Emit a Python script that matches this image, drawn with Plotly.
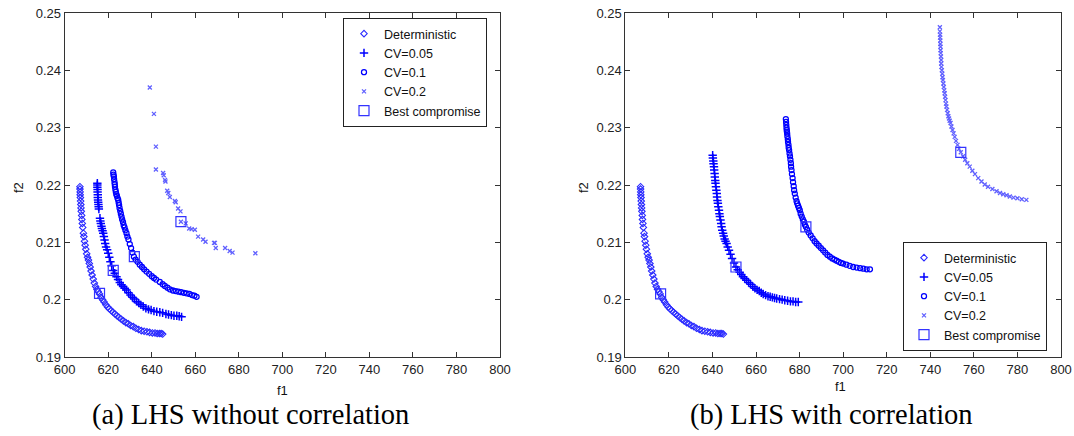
import plotly.graph_objects as go

# ---------------- data, (f1, f2) pairs ----------------
det_pts = [(607.0, .2197), (607.0, .2193), (607.1, .2188), (607.1, .2183), (607.2, .2178), (607.3, .2172),
           (607.4, .2166), (607.5, .2160), (607.6, .2154), (607.8, .2147), (607.9, .2140), (608.1, .2133),
           (608.3, .2126), (608.6, .2116), (608.8, .2110), (609.1, .2102), (609.4, .2095), (609.7, .2088),
           (610.1, .2080), (610.5, .2074), (610.9, .2069), (611.3, .2063), (611.7, .2057), (612.1, .2050),
           (612.6, .2043), (613.1, .2036), (613.6, .2029), (614.2, .2023), (614.8, .2018), (615.4, .2014),
           (616.0, .2010), (616.7, .2004), (617.4, .2000), (618.1, .1996), (618.9, .1991), (619.7, .1987),
           (620.5, .1984), (621.3, .1981), (622.2, .1978), (623.1, .1975), (624.0, .1972), (625.0, .1969),
           (626.0, .1966), (627.0, .1963), (628.1, .1960), (629.2, .1958), (630.3, .1955), (631.5, .1953),
           (632.7, .1950), (634.0, .1948), (635.2, .1946), (636.5, .1945), (637.8, .1944), (639.0, .1943),
           (640.3, .1942), (641.5, .1942), (642.5, .1941), (643.5, .1941), (644.3, .1941), (645.0, .1940)]

# (a) LHS without correlation
a_cv05_pts = [(615.0, .2203), (615.0, .2200), (615.0, .2196), (615.1, .2192), (615.1, .2188), (615.2, .2183),
              (615.2, .2178), (615.3, .2174), (615.4, .2170), (615.5, .2166), (615.6, .2162), (615.7, .2158),
              (616.2, .2142), (616.4, .2137), (616.6, .2133), (616.9, .2128), (617.1, .2124), (617.4, .2120),
              (617.7, .2116), (618.0, .2110), (618.3, .2104), (618.6, .2098), (619.0, .2092), (619.5, .2087),
              (620.0, .2081), (620.5, .2074), (621.0, .2066), (621.6, .2059), (622.3, .2051), (623.0, .2046),
              (623.8, .2040), (624.5, .2035), (625.3, .2030), (626.0, .2026), (626.8, .2023), (627.6, .2020),
              (628.4, .2017), (629.3, .2012), (630.2, .2008), (631.1, .2004), (632.0, .2001), (633.0, .1997),
              (634.0, .1994), (635.0, .1991), (636.1, .1988), (637.3, .1985), (638.5, .1983), (639.7, .1982),
              (641.0, .1980), (642.3, .1979), (643.7, .1978), (645.0, .1977), (646.5, .1975), (647.7, .1974),
              (649.0, .1973), (650.2, .1972), (651.5, .1972), (652.6, .1971), (653.7, .1970)]
a_cv1_pts = [(622.3, .2222), (622.4, .2218), (622.6, .2215), (622.7, .2210), (622.9, .2205), (623.0, .2201),
             (623.1, .2197), (623.3, .2192), (623.5, .2188), (623.7, .2184), (624.0, .2181), (624.3, .2177),
             (624.6, .2174), (624.8, .2169), (625.0, .2165), (625.2, .2160), (625.5, .2155), (625.8, .2150),
             (626.1, .2145), (626.4, .2140), (626.8, .2135), (627.1, .2130), (627.5, .2126), (627.9, .2121),
             (628.4, .2116), (628.8, .2110), (629.3, .2105), (629.9, .2097), (630.5, .2090), (631.1, .2082),
             (631.8, .2075), (632.6, .2070), (633.5, .2066), (634.5, .2061), (635.5, .2057), (636.5, .2053),
             (637.6, .2049), (638.8, .2045), (640.0, .2041), (641.0, .2038), (642.0, .2035), (643.7, .2031),
             (645.0, .2027), (646.0, .2024), (647.2, .2021), (648.3, .2018), (649.7, .2016), (651.0, .2015),
             (652.3, .2014), (653.5, .2013), (654.8, .2012), (656.0, .2011), (657.3, .2010), (658.5, .2008),
             (659.6, .2007), (660.6, .2005)]
a_cv2_pts = [(639.1, .2370), (641.0, .2324), (641.9, .2267), (641.9, .2227), (645.2, .2221), (645.5, .2217),
             (646.1, .2209), (646.3, .2206), (647.1, .2190), (647.6, .2186), (648.3, .2179), (650.6, .2172),
             (651.0, .2170), (652.1, .2159), (653.2, .2154), (653.4, .2136), (655.6, .2133), (657.2, .2124),
             (658.3, .2123), (659.8, .2122), (661.3, .2110), (663.6, .2105), (664.7, .2101), (668.6, .2099),
             (669.0, .2099), (669.4, .2090), (673.7, .2090), (675.8, .2085), (677.1, .2082), (687.6, .2081)]
a_best_pts = [(616.0, .2011), (622.3, .2051), (632.0, .2075), (653.4, .2136)]

# (b) LHS with correlation
b_cv05_pts = [(640.1, .2252), (640.2, .2247), (640.4, .2242), (640.5, .2237), (640.7, .2232), (640.8, .2226),
              (641.0, .2220), (641.1, .2214), (641.3, .2208), (641.4, .2203), (641.6, .2197), (641.8, .2191),
              (642.0, .2185), (642.1, .2179), (642.3, .2173), (642.5, .2168), (642.7, .2162), (643.0, .2156),
              (643.2, .2150), (643.4, .2145), (643.7, .2139), (644.0, .2133), (644.2, .2127), (644.5, .2121),
              (644.9, .2116), (645.2, .2111), (645.6, .2106), (646.0, .2102), (646.5, .2098), (647.0, .2092),
              (647.6, .2086), (648.3, .2079), (649.0, .2072), (649.9, .2064), (650.8, .2057), (651.6, .2052),
              (652.5, .2048), (653.2, .2044), (654.0, .2040), (654.8, .2037), (655.7, .2034), (656.6, .2030),
              (657.5, .2027), (658.5, .2023), (659.5, .2020), (660.5, .2017), (661.5, .2015), (662.4, .2012),
              (663.3, .2010), (664.4, .2008), (665.5, .2006), (666.5, .2005), (667.5, .2004), (668.5, .2003),
              (669.5, .2002), (670.8, .2001), (672.0, .2000), (673.2, .1999), (674.5, .1998), (675.8, .1997),
              (677.0, .1997), (678.2, .1996), (679.4, .1996)]
b_cv1_pts = [(673.7, .2315), (673.8, .2310), (673.9, .2305), (674.0, .2300), (674.1, .2296), (674.2, .2293),
             (674.3, .2290), (674.4, .2285), (674.6, .2280), (674.7, .2275), (674.9, .2270), (675.0, .2265),
             (675.2, .2261), (675.4, .2255), (675.6, .2250), (675.8, .2244), (676.0, .2238), (676.1, .2232),
             (676.3, .2226), (676.5, .2219), (676.8, .2212), (677.0, .2205), (677.3, .2198), (677.5, .2191),
             (677.8, .2185), (678.2, .2178), (678.6, .2172), (678.9, .2168), (679.3, .2164), (679.7, .2160),
             (680.1, .2156), (680.5, .2150), (681.0, .2145), (681.5, .2140), (682.0, .2136), (682.4, .2131),
             (682.9, .2127), (683.5, .2122), (684.2, .2117), (685.1, .2112), (686.0, .2107), (686.9, .2102),
             (687.8, .2098), (688.8, .2094), (689.8, .2090), (690.8, .2086), (691.8, .2082), (692.8, .2078),
             (693.9, .2075), (695.0, .2072), (696.0, .2070), (697.0, .2068), (698.0, .2066), (699.0, .2064),
             (700.0, .2063), (701.5, .2061), (703.0, .2059), (704.6, .2057), (706.2, .2056), (707.8, .2055),
             (709.3, .2054), (710.8, .2053), (712.3, .2053)]
b_cv2_pts = [(744.4, .2475), (744.4, .2468), (744.5, .2462), (744.5, .2457), (744.6, .2452), (744.6, .2446),
             (744.7, .2441), (744.7, .2435), (744.8, .2430), (744.9, .2424), (745.0, .2418), (745.0, .2412),
             (745.1, .2406), (745.3, .2400), (745.5, .2394), (745.6, .2388), (745.8, .2383), (746.0, .2377),
             (746.2, .2371), (746.4, .2365), (746.6, .2360), (746.8, .2354), (747.0, .2348), (747.2, .2342),
             (747.4, .2337), (747.7, .2331), (748.0, .2325), (748.3, .2320), (748.6, .2316), (748.9, .2312),
             (749.3, .2308), (749.7, .2302), (750.2, .2296), (750.7, .2290), (751.2, .2284), (751.8, .2277),
             (752.5, .2270), (753.2, .2263), (754.0, .2257), (755.0, .2250), (756.0, .2244), (757.0, .2238),
             (758.1, .2232), (759.3, .2225), (760.5, .2219), (762.0, .2212), (763.5, .2206), (765.0, .2201),
             (766.5, .2197), (768.5, .2193), (770.4, .2189), (772.0, .2186), (773.5, .2184), (775.0, .2182),
             (776.5, .2180), (778.2, .2178), (780.0, .2177), (782.0, .2175), (784.1, .2174)]
b_best_pts = [(616.2, .2010), (650.8, .2057), (682.9, .2127), (754.0, .2257)]

series_names = ["Deterministic", "CV=0.05", "CV=0.1", "CV=0.2", "Best compromise"]
x_ticks = [600, 620, 640, 660, 680, 700, 720, 740, 760, 780, 800]
y_ticks = [0.19, 0.2, 0.21, 0.22, 0.23, 0.24, 0.25]
panel_titles = ["(a) LHS without correlation", "(b) LHS with correlation"]
axis_titles = ["f1", "f2"]

# ---------------- styles ----------------
styles = [
    dict(symbol="diamond-open", size=5, color="#2a2aff", line=dict(width=1.1, color="#2a2aff")),
    dict(symbol="cross-thin-open", size=6, color="#0000ff", line=dict(width=1.5, color="#0000ff")),
    dict(symbol="circle-open", size=5, color="#0000ff", line=dict(width=1.3, color="#0000ff")),
    dict(symbol="x-thin-open", size=4, color="#6060ff", line=dict(width=1.3, color="#6060ff")),
    dict(symbol="square-open", size=10, color="#3333ff", line=dict(width=1.2, color="#3333ff")),
]

fig = go.Figure()
panels = [
    ("x", "y", "legend", [det_pts, a_cv05_pts, a_cv1_pts, a_cv2_pts, a_best_pts]),
    ("x2", "y2", "legend2", [det_pts, b_cv05_pts, b_cv1_pts, b_cv2_pts, b_best_pts]),
]
for xa, ya, lg, data in panels:
    for name, st, pts in zip(series_names, styles, data):
        xs = [p[0] for p in pts]
        ys = [p[1] for p in pts]
        fig.add_trace(go.Scatter(x=xs, y=ys, mode="markers", name=name, xaxis=xa, yaxis=ya,
                                 legend=lg, marker=st, showlegend=True))

tick_font = dict(family="Liberation Sans, Arial", size=13, color="#222222")
axis_common = dict(showgrid=False, zeroline=False, showline=True, linecolor="#333333", linewidth=1,
                   mirror="ticks", ticks="inside", ticklen=5, tickcolor="#333333", tickfont=tick_font,
                   automargin=False)

y_bot = (436 - 357) / 436
y_top = (436 - 13) / 436
legend_common = dict(xanchor="left", bordercolor="#222222", borderwidth=1,
                     bgcolor="white", tracegroupgap=0,
                     font=dict(family="Liberation Sans, Arial", size=12.5, color="#111111"))
fig.update_layout(
    width=1074, height=436, margin=dict(l=0, r=0, t=0, b=0, autoexpand=False),
    paper_bgcolor="white", plot_bgcolor="white",
    xaxis=dict(domain=[64.7 / 1074, 500 / 1074], range=[600, 800], tickvals=x_ticks, anchor="y", **axis_common),
    yaxis=dict(domain=[y_bot, y_top], range=[0.19, 0.25], tickvals=y_ticks, anchor="x", **axis_common),
    xaxis2=dict(domain=[625.3 / 1074, 1061 / 1074], range=[600, 800], tickvals=x_ticks, anchor="y2", **axis_common),
    yaxis2=dict(domain=[y_bot, y_top], range=[0.19, 0.25], tickvals=y_ticks, anchor="x2", **axis_common),
    legend=dict(x=343 / 1074, y=(436 - 18) / 436, yanchor="top", **legend_common),
    legend2=dict(x=903 / 1074, y=(436 - 351) / 436, yanchor="bottom", **legend_common),
    showlegend=True,
)

ann_font = dict(family="Liberation Sans, Arial", size=13, color="#111111")
title_font = dict(family="Liberation Serif, Times New Roman", size=28.5, color="black")
annotations = [
    dict(text=axis_titles[0], x=282 / 1074, y=(436 - 390) / 436, showarrow=False, font=ann_font),
    dict(text=axis_titles[0], x=840 / 1074, y=(436 - 386) / 436, showarrow=False, font=ann_font),
    dict(text=axis_titles[1], x=18 / 1074, y=(436 - 188) / 436, textangle=-90, showarrow=False, font=ann_font),
    dict(text=axis_titles[1], x=583 / 1074, y=(436 - 188) / 436, textangle=-90, showarrow=False, font=ann_font),
    dict(text=panel_titles[0], x=250 / 1074, y=(436 - 415) / 436, showarrow=False, font=title_font),
    dict(text=panel_titles[1], x=831 / 1074, y=(436 - 415) / 436, showarrow=False, font=title_font),
]
for a in annotations:
    a.update(xref="paper", yref="paper", xanchor="center", yanchor="middle")
fig.update_layout(annotations=annotations)

# remove the browser's default 8px page margin so the figure sits at the window's corner
fig.write_html("out.html", config={"displayModeBar": False},
               post_script="document.body.style.margin='0';document.body.style.overflow='hidden';")
